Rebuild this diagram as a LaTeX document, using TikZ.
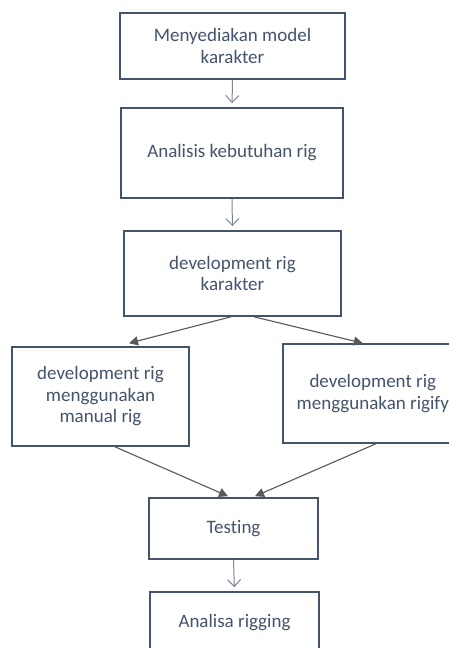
\documentclass[tikz,border=0pt]{standalone}
\usepackage{fontspec}
\setmainfont[Ligatures={NoCommon}]{Carlito}
\usetikzlibrary{arrows.meta,calc}
\definecolor{boxc}{HTML}{44546A}
\definecolor{txtc}{HTML}{44546A}
\definecolor{vc}{HTML}{7F8696}
\definecolor{dc}{HTML}{595959}
\begin{document}
\begin{tikzpicture}[x=1pt,y=-1pt,
  box/.style={draw=boxc,line width=1.6pt,fill=white,text=txtc,align=center,
    font=\fontsize{19}{21.5}\selectfont,inner sep=0pt},
  varrow/.style={draw=vc,line width=1pt,-{Straight Barb[length=7pt,width=13pt,line width=1pt]},shorten >=4pt},
  darrow/.style={draw=dc,line width=1.1pt,-{Triangle[length=9pt,width=9pt]}}]
\fill[white] (0,0) rectangle (448,648);
\useasboundingbox (0,0) rectangle (448,648);
\node[box,minimum width=225pt,minimum height=66pt] (b1) at (232.5,46) {Menyediakan model\\karakter};
\node[box,minimum width=222pt,minimum height=90pt] (b2) at (232,153) {Analisis kebutuhan rig};
\node[box,minimum width=217pt,minimum height=85pt] (b3) at (232.5,273.5) {development rig\\karakter};
\node[box,minimum width=177pt,minimum height=99pt] (b4) at (100.5,396.5) {development rig\\menggunakan\\manual rig};
\node[box,minimum width=200pt,minimum height=99pt,anchor=west] (b5) at (282,393.5) {\hspace*{-20pt}development rig\\\hspace*{-20pt}menggunakan rigify};
\node[box,minimum width=169pt,minimum height=61pt] (b6) at (233.5,528.5) {Testing};
\node[box,minimum width=169pt,minimum height=62pt] (b7) at (234.5,623) {Analisa rigging};
\draw[varrow] (b1.south) -- (b2.north);
\draw[varrow] (b2.south) -- (b3.north);
\draw[varrow] (b6.south) -- (b7.north);
\coordinate (l1) at ($(b4.north)+(28.5,-3)$);
\coordinate (r1) at ($(b5.north)+(-20,0)$);
\coordinate (l2) at ($(b6.north)+(-5.5,-1)$);
\coordinate (r2) at ($(b6.north)+(21.5,-1)$);
\draw[darrow] ($(b3.south)+(-1.5,0)$) -- (l1);
\draw[darrow] ($(b3.south)+(21.5,0)$) -- (r1);
\draw[darrow] ($(b4.south)+(14.5,0)$) -- (l2);
\draw[darrow] ($(b5.south)+(-7,0)$) -- (r2);
\end{tikzpicture}
\end{document}
